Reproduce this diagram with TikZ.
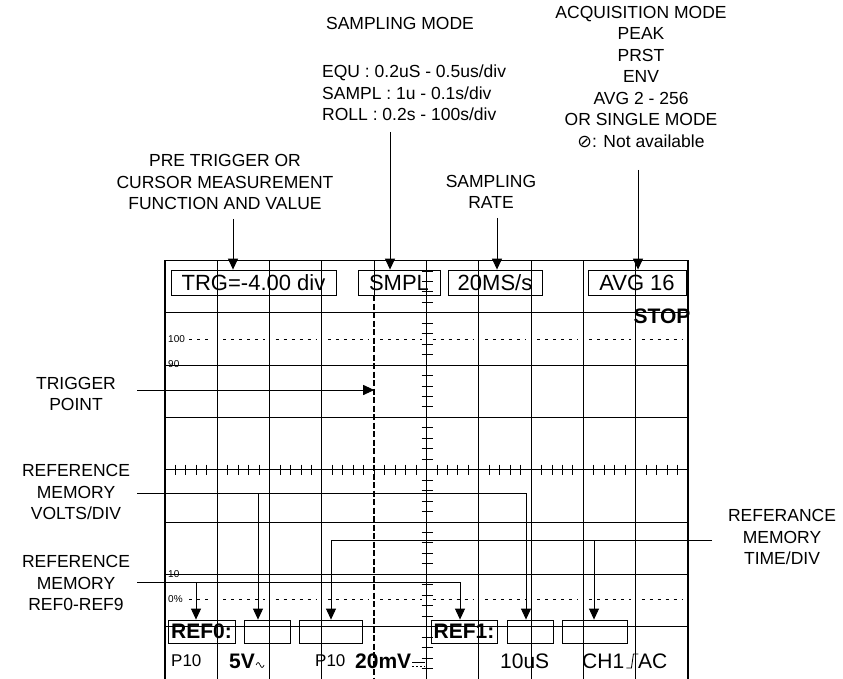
\documentclass[tikz,border=0pt]{standalone}
\usepackage{fontspec}
\setmainfont{Liberation Sans}
\newfontfamily\symfont{DejaVu Sans}
\usetikzlibrary{arrows.meta,calc,positioning}
\tikzset{
  gridline/.style = {line width=0.9pt},
  frame/.style    = {line width=1.8pt},
  trigline/.style = {line width=1.8pt, dash pattern=on 6pt off 2.5pt},
  lvlline/.style  = {line width=0.8pt, dash pattern=on 3pt off 5pt},
  lbl/.style      = {font=\fontsize{17.5}{21.5}\selectfont, align=center, inner sep=0pt},
  lvl/.style      = {font=\fontsize{10}{10}\selectfont, inner sep=0pt, anchor=west},
  rdbox/.style    = {draw, line width=0.8pt, minimum height=25pt, inner sep=0pt,
                     font=\fontsize{22}{22}\selectfont},
  refbox/.style   = {draw, line width=0.8pt, minimum height=23pt, inner sep=0pt,
                     font=\fontsize{21}{21}\selectfont\bfseries},
  rdout/.style    = {font=\fontsize{17}{17}\selectfont, inner sep=0pt, anchor=west},
  rdbig/.style    = {font=\fontsize{21}{21}\selectfont, inner sep=0pt, anchor=west},
  ptr/.style      = {-{Triangle[length=11pt,width=10pt]}, line width=0.9pt},
}
\begin{document}
\begin{tikzpicture}[x=1pt,y=-1pt]
  \useasboundingbox (0,0) rectangle (843,679);
  % screen grid, 10 x 8 divisions
  \foreach \i in {1,...,9}{
    \pgfmathsetmacro\gx{165+52.3*\i}
    \ifnum\i=4
      \draw[gridline] (\gx,260.5) -- (\gx,295);
    \else
      \draw[gridline] (\gx,260.5) -- (\gx,679);
    \fi
  }
  \foreach \j in {1,...,7}
    \draw[gridline] (165,260.5+52.3*\j) -- (688,260.5+52.3*\j);
  \draw[frame] (165,679) -- (165,260.5) -- (688,260.5) -- (688,679);
  % centre axes with minor ticks
  \foreach \k in {1,...,49}
    \draw[gridline] (165+10.46*\k,464.6) -- (165+10.46*\k,474.6);
  \foreach \k in {1,...,39}
    \draw[gridline] (421.5,260.5+10.46*\k) -- (432.5,260.5+10.46*\k);
  % 0% and 100% levels
  \foreach \i in {0,...,9}{
    \pgfmathsetmacro\xa{165+52.3*\i+ifthenelse(\i==0,24,6)}
    \pgfmathsetmacro\xb{165+52.3*(\i+1)-5}
    \draw[lvlline] (\xa,339) -- (\xb,339);
    \draw[lvlline] (\xa,599.5) -- (\xb,599.5);
  }
  \node[lvl] (l100) at (168,339) {100};
  \node[lvl] (l90)  at (168,364) {90};
  \node[lvl] (l10)  at (168,574) {10};
  \node[lvl] (l0)   at (168,599.5) {0\%};
  % trigger position
  \draw[trigline] (374.2,295) -- (374.2,679);
  \coordinate (trgpt) at (374.2,390);

  % top readouts
  \node[rdbox, minimum width=165pt] (trg)  at (253.5,282.5) {TRG=-4.00 div};
  \node[rdbox, minimum width=82pt]  (smpl) at (399,282.5)   {SMPL};
  \node[rdbox, minimum width=94pt]  (rate) at (495,282.5)   {20MS/s};
  \node[rdbox, minimum width=98pt]  (avg)  at (637,282.5)   {AVG 16};
  \node[font=\fontsize{21}{21}\selectfont\bfseries, inner sep=0pt] (stop) at (662,316) {STOP};

  % reference memory boxes
  \node[refbox, minimum width=67pt] (rb1) at (201.5,631.5) {REF0:};
  \node[refbox, minimum width=46pt] (rb2) at (267,631.5)   {};
  \node[refbox, minimum width=63pt] (rb3) at (330.5,631.5) {};
  \node[refbox, minimum width=66pt] (rb4) at (464,631.5)   {REF1:};
  \node[refbox, minimum width=46pt] (rb5) at (530,631.5)   {};
  \node[refbox, minimum width=65pt] (rb6) at (594.5,631.5) {};

  % bottom readouts
  \node[rdout] (p10a) at (171,661) {P10};
  \node[rdout, font=\fontsize{21}{21}\selectfont\bfseries] (volt) at (229,661) {5V};
  \draw[line width=0.7pt] ($(volt.east)+(1,4)$) sin ++(2,-2.5) cos ++(2,2.5) sin ++(2,2.5) cos ++(2,-2.5);
  \node[rdout] (p10b) at (315,661) {P10};
  \node[rdbig, font=\fontsize{21}{21}\selectfont\bfseries] (mv) at (355,661) {20mV};
  \draw[line width=0.7pt] ($(mv.east)+(1,1)$) -- ++(13,0);
  \draw[line width=0.7pt, dash pattern=on 2pt off 2pt] ($(mv.east)+(1,5)$) -- ++(13,0);
  \node[rdbig] (tdiv) at (500,661) {10uS};
  \node[rdbig] (ch)   at (582,661) {CH1};
  \draw[line width=0.8pt] ($(ch.east)+(2,7)$) -- ++(5,0) -- ++(2,-14) -- ++(5,0);
  \node[rdbig] (cpl)  at (638,661) {AC};

  % labels above the screen
  \node[lbl] (pretrig) at (225,182) {PRE TRIGGER OR\\CURSOR MEASUREMENT\\FUNCTION AND VALUE};
  \node[lbl] (sampmode) at (400,23) {SAMPLING MODE};
  \node[lbl, align=left, anchor=north west] (modes) at (322,65)
    {EQU : 0.2uS - 0.5us/div\\SAMPL : 1u - 0.1s/div\\ROLL : 0.2s - 100s/div};
  \node[lbl] (srate) at (491,192) {SAMPLING\\RATE};
  \node[lbl, anchor=north] (acq) at (641,6)
    {ACQUISITION MODE\\PEAK\\PRST\\ENV\\AVG 2 - 256\\OR SINGLE MODE\\{\symfont ⊘}: Not available};

  \coordinate (pt) at (233,219);
  \coordinate (sm) at (390,132);
  \coordinate (sr) at (497,218);
  \coordinate (am) at (638,170);
  \draw[ptr] (pt) -- (pt |- trg.north);
  \draw[ptr] (sm) -- (sm |- smpl.north);
  \draw[ptr] (sr) -- (sr |- rate.north);
  \draw[ptr] (am) -- (am |- avg.north);

  % labels beside the screen
  \node[lbl] (trgtxt) at (76,394) {TRIGGER\\POINT};
  \node[lbl] (voltxt) at (76,492) {REFERENCE\\MEMORY\\VOLTS/DIV};
  \node[lbl] (reftxt) at (76,583) {REFERENCE\\MEMORY\\REF0-REF9};
  \node[lbl] (timtxt) at (782,537) {REFERANCE\\MEMORY\\TIME/DIV};

  \coordinate (tp) at (137,390);
  \coordinate (va) at (137,493);
  \coordinate (tb) at (712,540);
  \coordinate (rc) at (137,582);
  \draw[ptr] (tp) -- (trgpt);
  \draw[ptr] (va) -| ([xshift=-4pt]rb5.north);
  \draw[ptr] ([xshift=-9pt]rb2.north |- va) -- ([xshift=-9pt]rb2.north);
  \draw[ptr] (tb) -| ([xshift=0.5pt]rb3.north);
  \draw[ptr] ([xshift=-0.5pt]rb6.north |- tb) -- ([xshift=-0.5pt]rb6.north);
  \draw[ptr] (rc) -| ([xshift=-4pt]rb4.north);
  \draw[ptr] ([xshift=-5.5pt]rb1.north |- rc) -- ([xshift=-5.5pt]rb1.north);
\end{tikzpicture}
\end{document}
